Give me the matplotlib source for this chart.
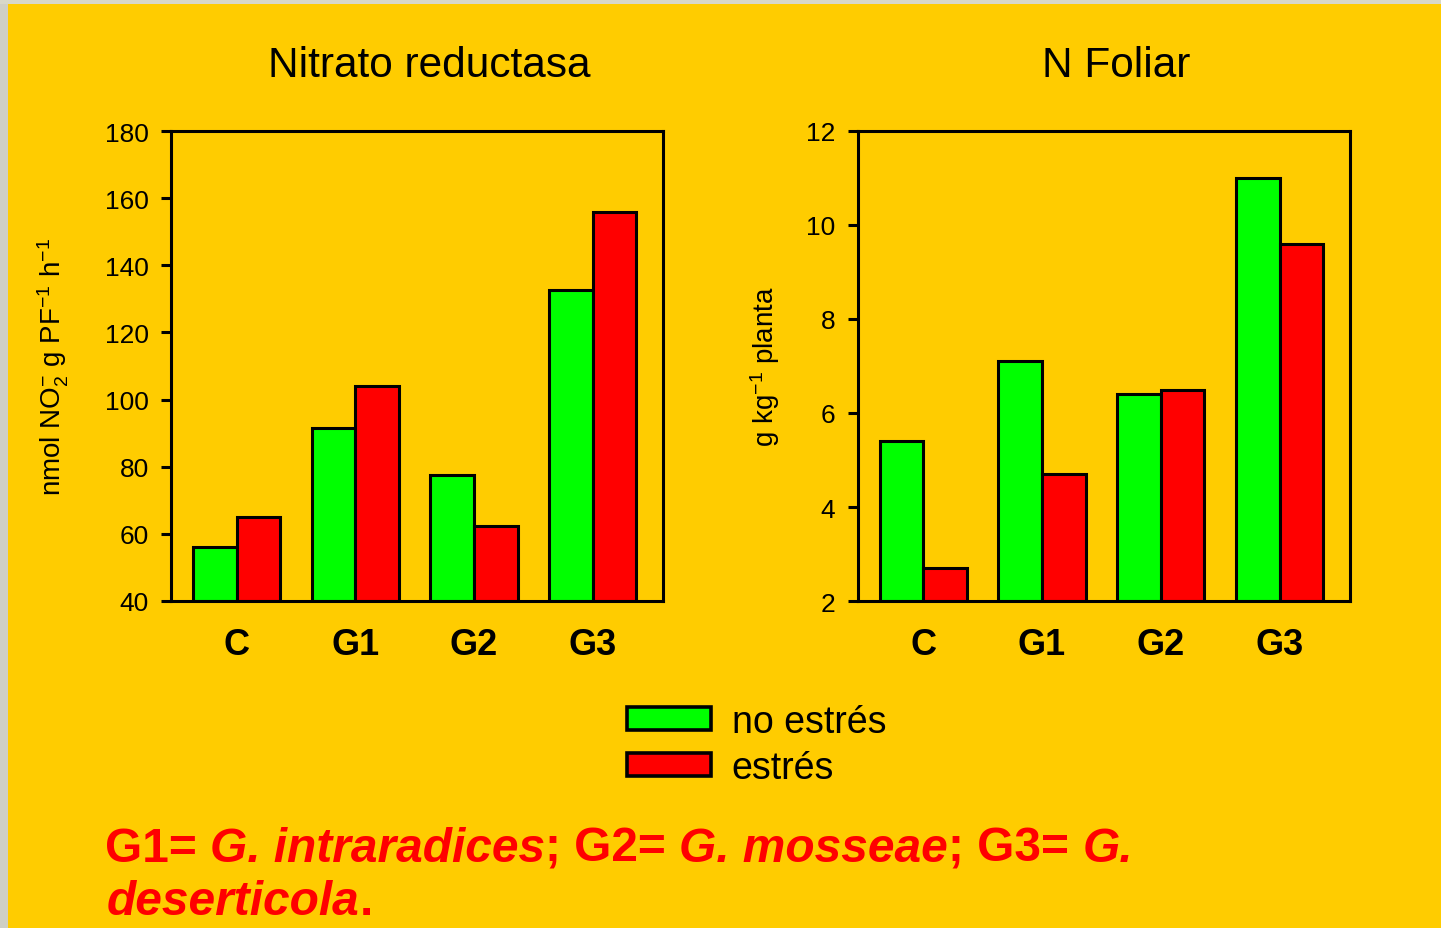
import matplotlib.pyplot as plt
import numpy as np
from matplotlib.patches import Rectangle

# Tratamientos y valores
tratamientos = ['C', 'G1', 'G2', 'G3']
nr_no_estres = [56, 91.4, 77.5, 132.5]
nr_estres = [65, 104, 62.2, 156]
nf_no_estres = [5.4, 7.1, 6.4, 11.0]
nf_estres = [2.7, 4.7, 6.5, 9.6]

fondo = '#FFCC00'
verde = '#00FF00'
rojo = '#FF0000'

plt.rcParams['font.family'] = ['Liberation Sans', 'DejaVu Sans']
plt.rcParams['mathtext.fontset'] = 'custom'
plt.rcParams['mathtext.rm'] = 'Liberation Sans'
plt.rcParams['mathtext.it'] = 'Liberation Sans:italic'

fig = plt.figure(figsize=(14.41, 9.29), dpi=100, facecolor=fondo)

# franja de la foto de fondo
fig.patches.append(Rectangle((0, 0), 8 / 1441, 1, transform=fig.transFigure,
                             facecolor='#cfcfc4', edgecolor='none', zorder=0))
fig.patches.append(Rectangle((0, 1 - 5 / 929), 1, 5 / 929, transform=fig.transFigure,
                             facecolor='#d8d8c8', edgecolor='none', zorder=0))

ax1 = fig.add_axes([171 / 1441, 1 - 602 / 929, 492 / 1441, 470 / 929])
ax2 = fig.add_axes([857.5 / 1441, 1 - 602 / 929, 492.5 / 1441, 470 / 929])

x = np.arange(len(tratamientos))
w = 0.367


def panel(ax, a, b, ylim, yticks, titulo, ylabel, lpad):
    ax.set_facecolor(fondo)
    y0 = ylim[0]
    # las barras parten del eje inferior
    ax.bar(x - w / 2, np.array(a) - y0, w, bottom=y0, color=verde,
           edgecolor='black', linewidth=2.2, zorder=2)
    ax.bar(x + w / 2, np.array(b) - y0, w, bottom=y0, color=rojo,
           edgecolor='black', linewidth=2.2, zorder=2)
    ax.set_ylim(*ylim)
    ax.set_xlim(-0.553, 3.593)
    ax.set_yticks(yticks)
    ax.set_xticks(x)
    ax.set_xticklabels(tratamientos, fontsize=26, fontweight='bold')
    ax.tick_params(axis='x', length=0, pad=19)
    ax.tick_params(axis='y', direction='out', length=7, width=2.2, labelsize=19, pad=9)
    for s in ax.spines.values():
        s.set_linewidth(2.2)
    ax.text(0.525, 1.117, titulo, transform=ax.transAxes, ha='center', va='baseline', fontsize=30.5)
    ax.set_ylabel(ylabel, fontsize=20, labelpad=lpad)


panel(ax1, nr_no_estres, nr_estres, (40, 180), range(40, 181, 20),
      'Nitrato reductasa', r'nmol NO$_2^{-}$ g PF$^{-1}$ h$^{-1}$', 24)
panel(ax2, nf_no_estres, nf_estres, (2, 12), range(2, 13, 2),
      'N Foliar', r'g kg$^{-1}$ planta', 17)

h1 = Rectangle((0, 0), 1, 1, facecolor=verde, edgecolor='black', linewidth=2.6)
h2 = Rectangle((0, 0), 1, 1, facecolor=rojo, edgecolor='black', linewidth=2.6)
fig.legend([h1, h2], ['no estrés', 'estrés'], loc='upper left',
           bbox_to_anchor=(593 / 1441, 1 - 671 / 929), frameon=False, fontsize=27,
           handlelength=2.24, handleheight=0.56, handletextpad=0.56, labelspacing=0.27)

# nota al pie con nombres de especies en cursiva
fig.canvas.draw()
r = fig.canvas.get_renderer()
lineas = [
    [('G1= ', 'normal'), ('G. intraradices', 'italic'), ('; G2= ', 'normal'),
     ('G. mosseae', 'italic'), ('; G3= ', 'normal'), ('G.', 'italic')],
    [('deserticola', 'italic'), ('.', 'normal')],
]
bases = [862, 915]
inicios = [105, 107]
for partes, yb, x0 in zip(lineas, bases, inicios):
    xp = x0
    for txt, st in partes:
        t = fig.text(xp / 1441, 1 - yb / 929, txt, fontsize=34.5, fontweight='bold',
                     style=st, color=rojo, va='baseline', ha='left')
        bb = t.get_window_extent(r)
        xp += bb.width

fig.savefig('out.png', dpi=100, facecolor=fondo)
